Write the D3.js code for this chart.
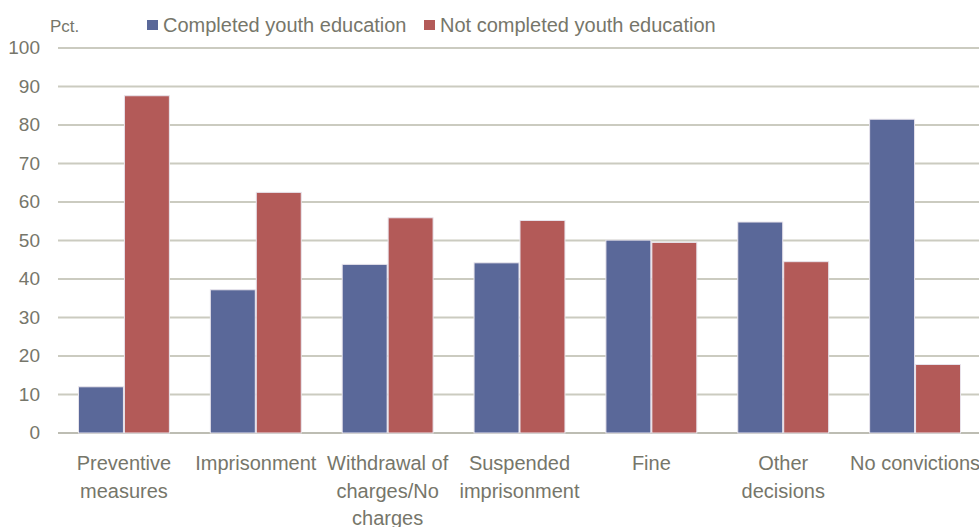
<!DOCTYPE html>
<html><head><meta charset="utf-8">
<script src="https://cdn.jsdelivr.net/npm/d3@7"></script>
<style>body{margin:0;background:#fff}svg{display:block}</style>
</head><body>
<svg id="c" width="979" height="527"></svg>
<script>
const categories = [["Preventive","measures"],["Imprisonment"],["Withdrawal of","charges/No","charges"],["Suspended","imprisonment"],["Fine"],["Other","decisions"],["No convictions"]];
const seriesNames = ["Completed youth education","Not completed youth education"];
const completed = [12, 37.2, 43.8, 44.2, 50.1, 54.8, 81.5];
const notCompleted = [87.6, 62.5, 55.9, 55.2, 49.5, 44.5, 17.8];
const yTicks = [0,10,20,30,40,50,60,70,80,90,100];
const colors = ["#5A6899","#B35A58"];
const font = "'Liberation Sans Narrow','Arial Narrow',sans-serif";
const textCol = "#76766A";

const svg = d3.select("#c");
const pL = 58, pR = 981, pT = 48, pB = 433;
const x = d3.scaleBand().domain(d3.range(categories.length)).range([pL,pR]).paddingInner(40/132).paddingOuter(20/132);
const x1 = d3.scaleBand().domain([0,1]).range([0,x.bandwidth()]);
const y = d3.scaleLinear().domain([0,100]).range([pB,pT]);

// gridlines
svg.append("g").selectAll("line").data(yTicks).join("line")
  .attr("x1",pL).attr("x2",979).attr("y1",d=>y(d)).attr("y2",d=>y(d))
  .attr("stroke",d=>d===0?"#BDBDB3":"#CBCBC0").attr("stroke-width",2);

// y labels
svg.append("g").selectAll("text").data(yTicks).join("text")
  .attr("x",40).attr("y",d=>y(d)+6).attr("text-anchor","end")
  .attr("font-family",font).attr("font-size",19).attr("fill",textCol).text(d=>d);

const data = categories.map((c,i)=>[completed[i],notCompleted[i]]);
const g = svg.append("g").selectAll("g").data(data).join("g")
  .attr("transform",(d,i)=>`translate(${x(i)},0)`);
g.selectAll("rect").data(d=>d).join("rect")
  .attr("x",(d,j)=>x1(j)+0.5).attr("width",x1.bandwidth()-1)
  .attr("y",d=>y(d)).attr("height",d=>y(0)-y(d))
  .attr("fill",(d,j)=>colors[j]).attr("stroke","#E8E4EC").attr("stroke-width",1);

// x labels
svg.append("g").selectAll("text").data(categories).join("text")
  .attr("x",(d,i)=>x(i)+x.bandwidth()/2).attr("y",470)
  .attr("text-anchor","middle").attr("font-family",font).attr("font-size",20).attr("fill",textCol)
  .each(function(d){
    const cx = d3.select(this).attr("x");
    d3.select(this).selectAll("tspan").data(d).join("tspan")
      .attr("x",cx).attr("dy",(t,k)=>k===0?0:27.5).text(t=>t);
  });

// Pct.
svg.append("text").attr("x",50).attr("y",32).attr("font-family",font).attr("font-size",17).attr("fill",textCol).text("Pct.");

// legend
const legX = [147,424];
const lg = svg.append("g").selectAll("g").data(seriesNames).join("g")
  .attr("transform",(d,i)=>`translate(${legX[i]},0)`);
lg.append("rect").attr("x",0).attr("y",20).attr("width",11).attr("height",10).attr("fill",(d,i)=>colors[i]);
lg.append("text").attr("x",16).attr("y",32).attr("font-family",font).attr("font-size",20).attr("fill",textCol).text(d=>d);
</script>
</body></html>
